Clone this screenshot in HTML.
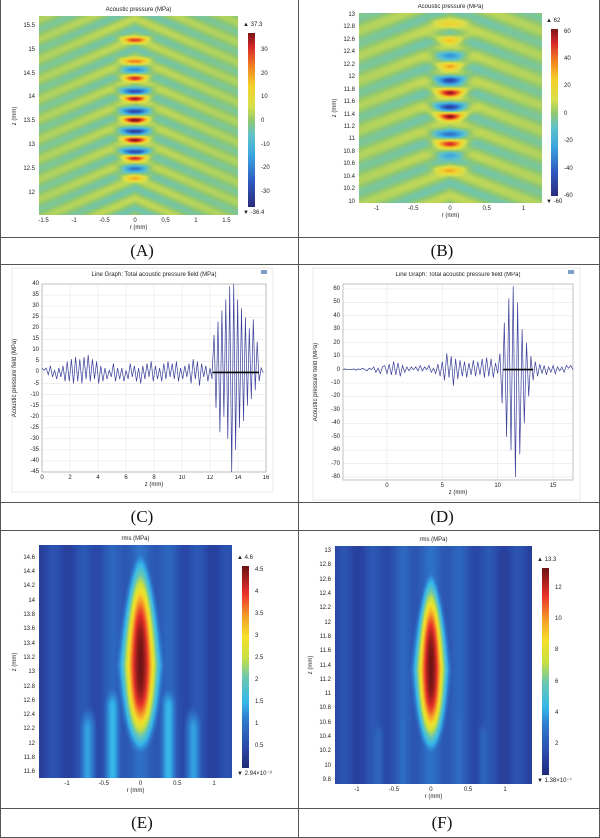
<!DOCTYPE html>
<html><head><meta charset="utf-8"><style>
body{margin:0;background:#fff;}
#root{position:relative;width:600px;height:838px;overflow:hidden;background:#fff;font-family:"Liberation Sans",sans-serif;}
.t{position:absolute;font-size:6px;color:#222;white-space:nowrap;line-height:1;}
.hl{position:absolute;background:#555;}
.lbl{position:absolute;font-family:"Liberation Serif",serif;font-size:17px;color:#111;transform:translateX(-50%);}
canvas{position:absolute;}
</style></head><body>
<div id="root">
<div class="hl" style="left:0;top:0;width:1px;height:838px"></div>
<div class="hl" style="left:298px;top:0;width:1px;height:838px"></div>
<div class="hl" style="left:599px;top:0;width:1px;height:838px"></div>
<div class="hl" style="left:0;top:237px;width:600px;height:1px"></div>
<div class="hl" style="left:0;top:264px;width:600px;height:1px"></div>
<div class="hl" style="left:0;top:502px;width:600px;height:1px"></div>
<div class="hl" style="left:0;top:530px;width:600px;height:1px"></div>
<div class="hl" style="left:0;top:808px;width:600px;height:1px"></div>
<div class="hl" style="left:0;top:837px;width:600px;height:1px"></div>
<div class="lbl" style="left:142px;top:241px">(A)</div>
<div class="lbl" style="left:442px;top:241px">(B)</div>
<div class="lbl" style="left:142px;top:507px">(C)</div>
<div class="lbl" style="left:442px;top:507px">(D)</div>
<div class="lbl" style="left:142px;top:813px">(E)</div>
<div class="lbl" style="left:442px;top:813px">(F)</div>
<svg id="lines" width="600" height="838" style="position:absolute;left:0;top:0"></svg>
</div>
<script>
// ---------- data ----------
const lobesA_z=[15.2,14.75,14.58,14.4,14.12,13.97,13.7,13.52,13.28,13.1,12.85,12.72,12.5,12.3];
const lobesA_v=[0.7,0.55,-0.4,0.75,-0.7,0.85,-0.75,0.95,-0.8,0.9,-0.75,0.75,-0.5,0.4];
const lobesB_z=[12.85,12.6,12.35,12.18,11.95,11.75,11.52,11.37,11.08,10.93,10.75,10.5];
const lobesB_v=[0.25,0.45,-0.4,0.5,-0.75,0.9,-0.75,0.95,-0.5,0.75,-0.3,0.4];
const cLowVals=[2,1,2,-1,3,-2,1,-3,2,-2,3,-4,5,-4,6,-5,7,-4,6,-5,7,-3,8,-4,6,-3,5,-5,3,-4,2,-3,1,-2,4,-4,2,-3,2,-4,1,-3,4,-2,3,-4,2,-5,3,-3,4,-2,5,-4,3,-3,2,-4,4,-3,5,-2,4,-3,5,-4,2,-3,3,-2,4,-5,6,-3,5,-6,4,-2,3,-4,2,-3];
const cHighVals=[0,17,-16,23,-27,28,-20,33,-30,39,-45,40,-35,33,-25,29,-22,25,-15,20,-12,24,-8,14,-4,2,0];
const dVals=[0,0.5,0,0.3,0,0.5,-0.5,0.5,0,1,0,-1,1,0,2,-2,1,-3,2,3,-3,4,-4,6,-4,5,-5,3,-2,2,-1,2,0,2,-1,3,-1,2,0,3,-2,1,-3,4,-5,6,-8,12,-6,10,-12,8,-7,7,-5,6,-6,5,-4,7,-5,6,-4,8,-6,9,-5,8,-6,5,-3,12,-25,35,-50,53,-60,62,-80,50,-63,30,-40,20,-20,10,-8,6,-5,4,-3,3,-4,2,-2,3,-3,2,-1,2,-2,3,1,3,0];
const cTicksX=[0,2,4,6,8,10,12,14,16];
const cTicksY=[40,35,30,25,20,15,10,5,0,-5,-10,-15,-20,-25,-30,-35,-40,-45];
const dTicksX=[0,5,10,15];
const dTicksY=[60,50,40,30,20,10,0,-10,-20,-30,-40,-50,-60,-70,-80];
const aTicksR=[-1.5,-1,-0.5,0,0.5,1,1.5], aTicksZ=[15.5,15,14.5,14,13.5,13,12.5,12];
const bTicksR=[-1,-0.5,0,0.5,1], bTicksZ=[13,12.8,12.6,12.4,12.2,12,11.8,11.6,11.4,11.2,11,10.8,10.6,10.4,10.2,10];
const eTicksR=[-1,-0.5,0,0.5,1], eTicksZ=[14.6,14.4,14.2,14,13.8,13.6,13.4,13.2,13,12.8,12.6,12.4,12.2,12,11.8,11.6];
const fTicksR=[-1,-0.5,0,0.5,1], fTicksZ=[13,12.8,12.6,12.4,12.2,12,11.8,11.6,11.4,11.2,11,10.8,10.6,10.4,10.2,10,9.8];
const aCbTicks=[30,20,10,0,-10,-20,-30], bCbTicks=[60,40,20,0,-20,-40,-60];
const eCbTicks=[4.5,4,3.5,3,2.5,2,1.5,1,0.5], fCbTicks=[12,10,8,6,4,2];

const root=document.getElementById('root');
const svg=document.getElementById('lines');
const NS='http://www.w3.org/2000/svg';
function txt(s,x,y,name,opts){
  const d=document.createElement('div');d.className='t';d.textContent=s;
  
  
  d.style.left=x+'px';d.style.top=y+'px';
  if(opts&&opts.align==='right'){d.style.left='auto';d.style.right=(600-x)+'px';}
  if(opts&&opts.align==='center'){d.style.transform='translateX(-50%)';}
  if(opts&&opts.rot){d.style.transform='translate(-50%,-50%) rotate(-90deg)';}
  root.appendChild(d);return d;
}
const stopsP=[[0,'#2a2c7c'],[0.15,'#2e5bc0'],[0.3,'#3aa6e0'],[0.42,'#62c3c8'],[0.5,'#92c86e'],[0.58,'#d8e04a'],[0.7,'#f5d02a'],[0.82,'#f07a22'],[0.92,'#d8282a'],[1,'#7e1616']];
const stopsR=[[0,'#1f2a78'],[0.1,'#2a48a8'],[0.25,'#2f7fd0'],[0.33,'#36b8ea'],[0.45,'#6cc8b0'],[0.55,'#c8e040'],[0.65,'#f5e02a'],[0.75,'#f5a028'],[0.87,'#e8302a'],[1,'#6e1414']];
function hex(h){return [parseInt(h.substr(1,2),16),parseInt(h.substr(3,2),16),parseInt(h.substr(5,2),16)];}
function cmap(stops,t){
  t=Math.max(0,Math.min(1,t));
  for(let i=1;i<stops.length;i++){ if(t<=stops[i][0]){const a=stops[i-1],b=stops[i];const f=(t-a[0])/(b[0]-a[0]);const ca=hex(a[1]),cb=hex(b[1]);return [0,1,2].map(k=>ca[k]+(cb[k]-ca[k])*f);} }
  return hex(stops[stops.length-1][1]);
}
function field(name,L,T,W,H,rmin,rmax,zmin,zmax,f,stops){
  const c=document.createElement('canvas');c.width=W;c.height=H;c.style.left=L+'px';c.style.top=T+'px';
  
  
  root.appendChild(c);
  const ctx=c.getContext('2d');const im=ctx.createImageData(W,H);
  for(let y=0;y<H;y++)for(let x=0;x<W;x++){
    const r=rmin+(x+0.5)/W*(rmax-rmin), z=zmax-(y+0.5)/H*(zmax-zmin);
    const col=cmap(stops,f(r,z));const i=(y*W+x)*4;
    im.data[i]=col[0];im.data[i+1]=col[1];im.data[i+2]=col[2];im.data[i+3]=255;
  }
  ctx.putImageData(im,0,0);
}
function colorbar(name,L,T,H,stops){
  const c=document.createElement('canvas');c.width=7;c.height=H;c.style.left=L+'px';c.style.top=T+'px';
  
  
  root.appendChild(c);const ctx=c.getContext('2d');
  for(let y=0;y<H;y++){const col=cmap(stops,1-y/H);ctx.fillStyle='rgb('+col.map(Math.round).join(',')+')';ctx.fillRect(0,y,7,1);}
}
function pressure(lz,lv,slope,period,z0){
  return (r,z)=>{
    const ar=Math.abs(r);
    let v=0.11*Math.cos(2*Math.PI*(z+slope*ar-z0)/period)*(0.6+0.4*Math.exp(-ar*ar));
    const ze=z-0.8*r*r;
    for(let i=0;i<lz.length;i++){v+=lv[i]*Math.exp(-Math.pow((ze-lz[i])/0.065,2)-Math.pow(r/0.2,2));}
    return 0.5+0.5*v;
  };
}
field('heatmap-a',39,16,199,199,-1.574,1.689,11.53,15.71,pressure(lobesA_z,lobesA_v,0.55,0.42,12.3),stopsP);
field('heatmap-b',359,13,183,190,-1.238,1.252,9.98,13.03,pressure(lobesB_z,lobesB_v,0.45,0.4,10.5),stopsP);
function rms(zc,sUp,sDn,sr,bg,sides){
  return (r,z)=>{
    const s=z>zc?sUp:sDn;
    const d=Math.abs((z-zc)/s);
    const w=sr*(z>zc?Math.max(0.35,1-0.45*(z-zc)/sUp):Math.max(0.5,1-0.3*(zc-z)/sDn));
    let v=Math.exp(-Math.pow(r/w,2)-d*d*d);
    let side=0;
    for(const sd of sides){side=Math.max(side,sd[2]*Math.exp(-Math.pow((Math.abs(r)-sd[0])/0.13,2))*(z<sd[1]?1:Math.exp(-Math.pow((z-sd[1])/0.35,2))));}
    const halo=0.08*Math.exp(-Math.pow(r/0.6,2));
    return Math.max(bg+halo+0.03*Math.cos(r*16),v,side);
  };
}
field('heatmap-e',39,545,193,233,-1.381,1.245,11.52,14.78,rms(13.1,1.36,1.07,0.25,0.1,[[0.38,12.5,0.33],[0.72,12.2,0.3]]),stopsR);
field('heatmap-f',335,546,197,238,-1.297,1.365,9.744,13.07,rms(11.35,1.17,1.02,0.21,0.1,[[0.38,10.6,0.2],[0.72,10.4,0.18]]),stopsR);
colorbar('colorbar-a',248,33,174,stopsP);
colorbar('colorbar-b',551,29,167,stopsP);
colorbar('colorbar-e',242,566,202,stopsR);
colorbar('colorbar-f',542,568,207,stopsR);

function mapAxes(name,L,T,W,H,rmin,rmax,zmin,zmax,rT,zT,title,cbL,cbT,cbH,cbMin,cbMax,cbT2,maxS,minS){
  const xp=r=>L+(r-rmin)/(rmax-rmin)*W, yp=z=>T+(zmax-z)/(zmax-zmin)*H;
  rT.forEach(r=>txt(String(r),xp(r),T+H+3,name+'-x-tick',{align:'center'}));
  zT.forEach(z=>txt(String(z),L-4,yp(z)-3,name+'-y-tick',{align:'right'}));
  txt('r (mm)',L+W/2,T+H+10,name+'-x-title',{align:'center'});
  txt('z (mm)',L-24,T+H/2,name+'-y-title',{rot:true});
  txt(title,L+W/2,T-9,name+'-title',{align:'center'});
  const cy=v=>cbT+(cbMax-v)/(cbMax-cbMin)*cbH;
  cbT2.forEach(v=>txt(String(v),cbL+13,cy(v)-3,name+'-cb-tick'));
  txt(maxS,cbL-5,cbT-11,name+'-cb-max');
  txt(minS,cbL-5,cbT+cbH+3,name+'-cb-min');
}
mapAxes('map-a',39,16,199,199,-1.574,1.689,11.53,15.71,aTicksR,aTicksZ,'Acoustic pressure  (MPa)',248,33,174,-36.4,37.3,aCbTicks,'▲ 37.3','▼ -36.4');
mapAxes('map-b',359,13,183,190,-1.238,1.252,9.98,13.03,bTicksR,bTicksZ,'Acoustic pressure  (MPa)',551,29,167,-60,62,bCbTicks,'▲ 62','▼ -60');
mapAxes('map-e',39,545,193,233,-1.381,1.245,11.52,14.78,eTicksR,eTicksZ,'rms (MPa)',242,566,202,0,4.6,eCbTicks,'▲ 4.6','▼ 2.94×10⁻³');
mapAxes('map-f',335,546,197,238,-1.297,1.365,9.744,13.07,fTicksR,fTicksZ,'rms (MPa)',542,568,207,0,13.3,fCbTicks,'▲ 13.3','▼ 1.38×10⁻⁷');

function el(tag,attrs){const e=document.createElementNS(NS,tag);for(const k in attrs)e.setAttribute(k,attrs[k]);svg.appendChild(e);return e;}
function lineChart(name,L,T,W,H,xmin,xmax,ymin,ymax,xT,yT,series,bar){
  const xp=x=>L+(x-xmin)/(xmax-xmin)*W, yp=y=>T+(ymax-y)/(ymax-ymin)*H;
  const fr=el('rect',{x:L-30,y:T-16,width:W+37,height:H+36,fill:'none',stroke:'#e4e4e4','stroke-width':0.8});
  
  
  xT.forEach(x=>{const g=el('line',{x1:xp(x),x2:xp(x),y1:T,y2:T+H,stroke:'#e6e6e6','stroke-width':0.6});
    
    
    txt(String(x),xp(x),T+H+3,name+'-x-tick',{align:'center'});});
  yT.forEach(y=>{const g=el('line',{x1:L,x2:L+W,y1:yp(y),y2:yp(y),stroke:'#e6e6e6','stroke-width':0.6});
    
    
    txt(String(y),L-3,yp(y)-3,name+'-y-tick',{align:'right'});});
  const bx=el('rect',{x:L,y:T,width:W,height:H,fill:'none',stroke:'#999','stroke-width':0.6});
  
  
  let d='';
  series.forEach(s=>{s.vals.forEach((v,i)=>{const x=s.start+i*s.step;if(x>xmax)return;d+=(d?'L':'M')+xp(x).toFixed(1)+','+yp(v).toFixed(1);});});
  const p=el('path',{d:d,fill:'none',stroke:'#3a3f9a','stroke-width':0.7});
  
  
  const b=el('line',{x1:xp(bar[0]),x2:xp(bar[1]),y1:yp(0),y2:yp(0),stroke:'#000','stroke-width':1.6});
  
  
  txt('Line Graph: Total acoustic pressure field (MPa)',L+W/2,T-12,name+'-title',{align:'center'});
  txt('z (mm)',L+W/2,T+H+10,name+'-x-title',{align:'center'});
  txt('Acoustic pressure field (MPa)',L-27,T+H/2,name+'-y-title',{rot:true});
  const ic=el('rect',{x:L+W-5,y:T-14,width:6,height:4,fill:'#7aa0c8'});
  
  
}
lineChart('chart-c',42,284,224,188,0,16,-45,40,cTicksX,cTicksY,[{start:0,step:0.15,vals:cLowVals},{start:12.15,step:0.14,vals:cHighVals}],[12.2,15.5]);
lineChart('chart-d',343,284,230,196,-3.97,16.8,-82.2,63.7,dTicksX,dTicksY,[{start:-4,step:0.2,vals:dVals}],[10.5,13.2]);
</script>
</body></html>
